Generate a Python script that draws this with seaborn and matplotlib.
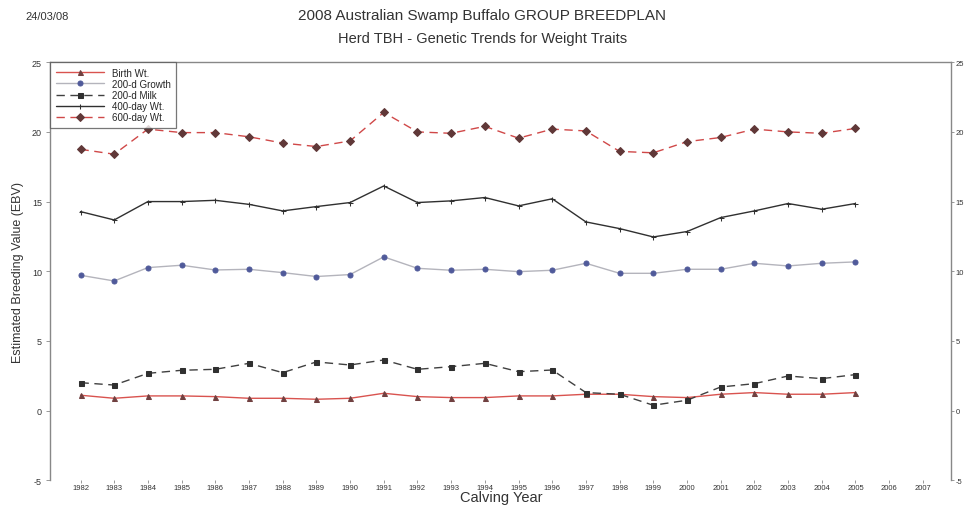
import numpy as np
import pandas as pd
import matplotlib
matplotlib.use('Agg')
import matplotlib.pyplot as plt
import seaborn as sns

sns.set_style('ticks')
plt.rcParams['font.family'] = ['Liberation Sans', 'DejaVu Sans']

years = list(range(1982, 2006))
tick_years = list(range(1982, 2008))

birth_wt = [1.1, 0.88, 1.05, 1.05, 1.0, 0.88, 0.88, 0.81, 0.88, 1.24, 1.0, 0.93,
            0.93, 1.05, 1.05, 1.17, 1.17, 1.0, 0.93, 1.17, 1.29, 1.17, 1.17, 1.29]
growth_200d = [9.71, 9.3, 10.26, 10.43, 10.09, 10.14, 9.9, 9.62, 9.76, 11.03, 10.21, 10.07,
               10.14, 9.97, 10.07, 10.57, 9.85, 9.85, 10.14, 10.14, 10.57, 10.38, 10.57, 10.67]
milk_200d = [2.0, 1.83, 2.67, 2.89, 2.96, 3.39, 2.72, 3.49, 3.27, 3.63, 2.96, 3.15,
             3.39, 2.79, 2.91, 1.29, 1.17, 0.38, 0.74, 1.69, 1.93, 2.48, 2.29, 2.58]
wt_400d = [14.28, 13.68, 15.0, 15.0, 15.09, 14.8, 14.33, 14.64, 14.93, 16.12, 14.93, 15.05,
           15.29, 14.69, 15.2, 13.54, 13.06, 12.46, 12.85, 13.85, 14.33, 14.86, 14.45, 14.86]
wt_600d = [18.75, 18.4, 20.2, 19.95, 19.95, 19.65, 19.2, 18.95, 19.35, 21.4, 20.0, 19.9,
           20.4, 19.55, 20.2, 20.07, 18.6, 18.5, 19.3, 19.6, 20.2, 20.0, 19.9, 20.25]

y_ticks = [-5, 0, 5, 10, 15, 20, 25]

# name, values, line colour, marker, marker colour, linestyle
series = [
    ('Birth Wt.', birth_wt, '#d9534f', '^', '#704040', '-'),
    ('200-d Growth', growth_200d, '#b4b4bc', 'o', '#505a9a', '-'),
    ('200-d Milk', milk_200d, '#404040', 's', '#303030', (0, (6, 4))),
    ('400-day Wt.', wt_400d, '#303030', '+', '#303030', '-'),
    ('600-day Wt.', wt_600d, '#d04848', 'D', '#603838', (0, (6, 4))),
]

fig = plt.figure(figsize=(9.65, 5.06), dpi=100)
ax = fig.add_axes([0.052, 0.049, 0.934, 0.826])

for name, vals, col, mk, mcol, ls in series:
    df = pd.DataFrame({'year': years, 'ebv': vals})
    sns.lineplot(data=df, x='year', y='ebv', ax=ax, color=col, linestyle=ls,
                 linewidth=1.0, marker=mk, markersize=3.6,
                 markerfacecolor=mcol, markeredgecolor=mcol, label=name)

ax.set_xlim(1981.1, 2007.85)
ax.set_ylim(-5, 25)
ax.set_xticks(tick_years)
ax.set_xticklabels([str(y) for y in tick_years], fontsize=5.5, color='#333333')
ax.set_yticks(y_ticks)
ax.set_yticklabels([str(v) for v in y_ticks], fontsize=6.5, color='#333333')
ax.tick_params(axis='x', length=2, width=0.6, colors='#888888', labelcolor='#333333', pad=1)
ax.tick_params(axis='y', length=3, width=0.6, colors='#888888', labelcolor='#333333', pad=3)
ax.set_xlabel('Calving Year', fontsize=10.5, color='#333333', labelpad=-1)
ax.set_ylabel('Estimated Breeding Value (EBV)', fontsize=9, color='#333333', labelpad=6)

for side in ['left', 'top', 'right']:
    ax.spines[side].set_color('#888888')
    ax.spines[side].set_linewidth(1.0)
ax.spines['bottom'].set_visible(False)

ax2 = ax.twinx()
ax2.set_ylim(-5, 25)
ax2.set_yticks(y_ticks)
ax2.set_yticklabels([str(v) for v in y_ticks], fontsize=5.5, color='#333333')
ax2.tick_params(axis='y', length=2, width=0.6, colors='#888888', labelcolor='#333333', pad=1)
for side in ['left', 'top', 'right', 'bottom']:
    ax2.spines[side].set_visible(False)

leg = ax.legend(loc='upper left', bbox_to_anchor=(0, 1), borderaxespad=0,
                fontsize=7.0, frameon=True, fancybox=False, handlelength=5.0,
                labelspacing=0.12, borderpad=0.55, handletextpad=0.8)
leg.get_frame().set_edgecolor('#555555')
leg.get_frame().set_linewidth(0.9)

fig.text(0.5, 0.968, '2008 Australian Swamp Buffalo GROUP BREEDPLAN',
         ha='center', va='center', fontsize=11, color='#333333')
fig.text(0.5, 0.922, 'Herd TBH - Genetic Trends for Weight Traits',
         ha='center', va='center', fontsize=10.5, color='#333333')
fig.text(0.026, 0.966, '24/03/08', ha='left', va='center', fontsize=8, color='#333333')

fig.savefig('out.png', dpi=100, facecolor='white')
